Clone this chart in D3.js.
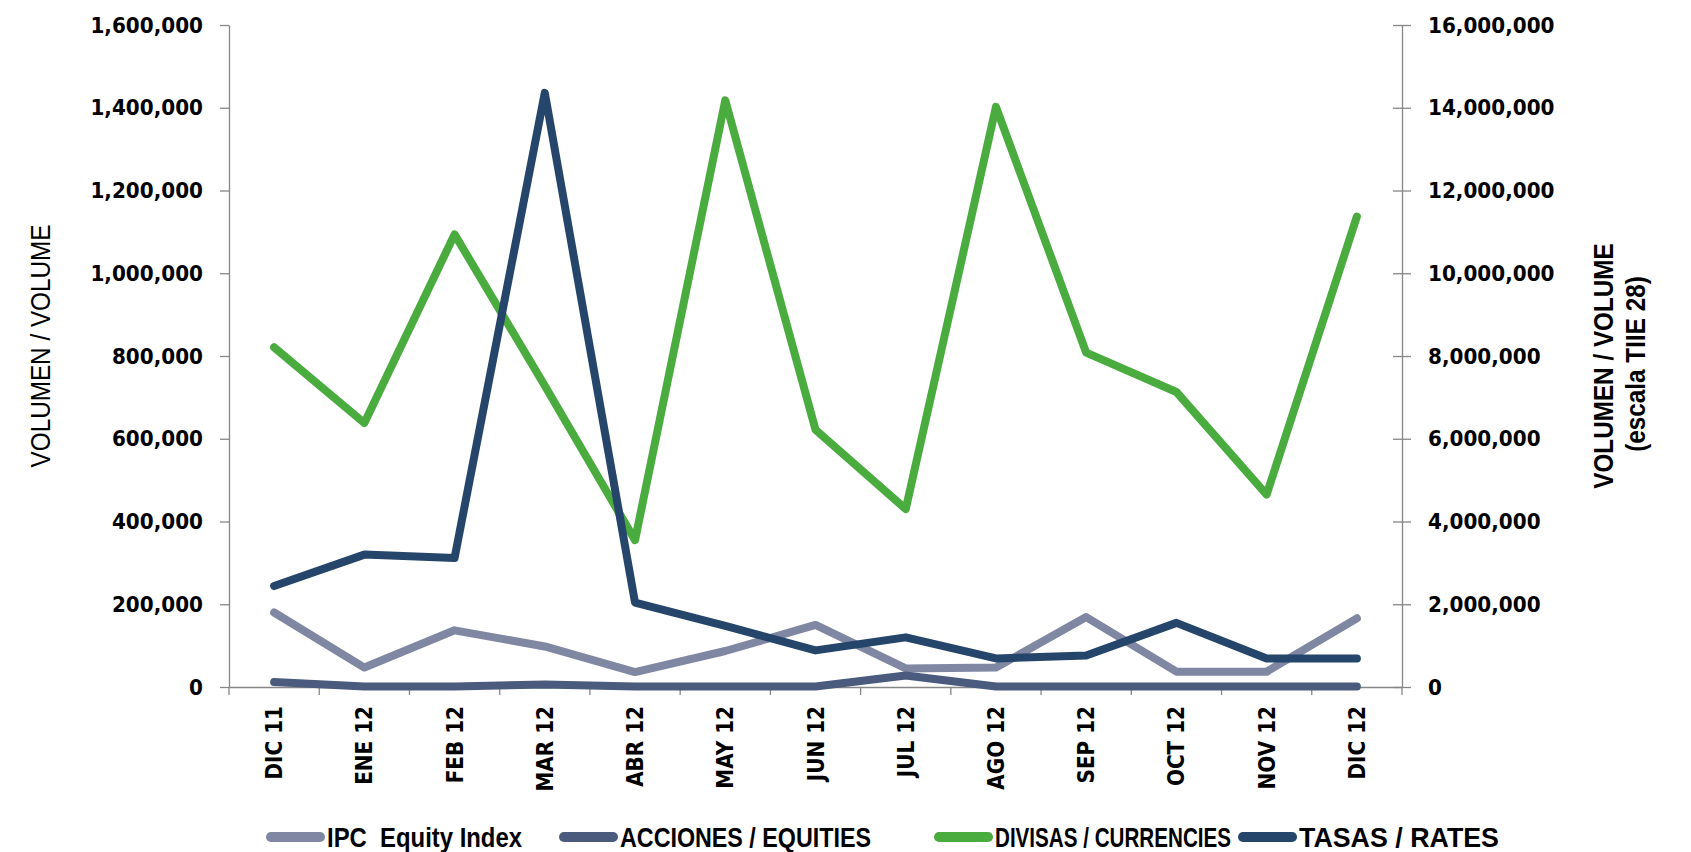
<!DOCTYPE html>
<html lang="es">
<head>
<meta charset="UTF-8">
<title>volumen</title>
<script src="https://cdn.jsdelivr.net/npm/d3@7"></script>
<style>
  body { margin: 0; background: #fff; }
  .tick text { font-family: "DejaVu Sans", Verdana, sans-serif; font-weight: bold; font-size: 20px; fill: #000; }
  .narrow { font-family: "Liberation Sans", Arial, sans-serif; fill: #000; }
  .axis path, .axis line { stroke: #868686; stroke-width: 1.3px; }
  .serie { fill: none; stroke-width: 8px; stroke-linecap: round; stroke-linejoin: round; }
</style>
</head>
<body>
<svg id="chart" width="1691" height="852"></svg>
<script>
// meses
var meses = ["DIC 11", "ENE 12", "FEB 12", "MAR 12", "ABR 12", "MAY 12", "JUN 12",
             "JUL 12", "AGO 12", "SEP 12", "OCT 12", "NOV 12", "DIC 12"];

// series (eje izquierdo)
var ipc      = [180000, 47000, 137000, 98000, 36000, 87000, 150000, 45000, 47000, 169000, 37000, 37000, 166000];
var acciones = [12000, 1000, 1000, 6000, 1000, 1000, 1000, 28000, 1000, 1000, 1000, 1000, 1000];
var divisas  = [821000, 638000, 1094000, 728000, 355000, 1418000, 622000, 430000, 1402000, 808000, 713000, 465000, 1137000];
// tasas (eje derecho, escala TIIE 28)
var tasas    = [2440000, 3200000, 3120000, 14360000, 2040000, 1480000, 885000, 1200000, 690000, 760000, 1550000, 690000, 690000];

var ticksIzq = d3.range(0, 1600001, 200000);
var ticksDer = d3.range(0, 16000001, 2000000);

var nombres = ["IPC  Equity Index", "ACCIONES / EQUITIES", "DIVISAS / CURRENCIES", "TASAS / RATES"];
var colores = ["#7f87a3", "#4b5b7e", "#4aac3f", "#25456a"];
// posicion y ancho de cada entrada de la leyenda
var legendX = [266, 559, 934, 1238];
var legendW = [195, 251, 236, 200];

var svg = d3.select("#chart");
var mLeft = 229, mRight = 1402, mTop = 25, mBottom = 687;

var x = d3.scaleBand().domain(meses).range([mLeft, mRight]);
var cx = function (d, i) { return x(meses[i]) + x.bandwidth() / 2; };
var yL = d3.scaleLinear().domain([0, 1600000]).range([mBottom, mTop]);
var yR = d3.scaleLinear().domain([0, 16000000]).range([mBottom, mTop]);

// eje izquierdo
var gL = svg.append("g").attr("class", "axis")
  .attr("transform", "translate(" + mLeft + ",0)")
  .call(d3.axisLeft(yL).tickValues(ticksIzq).tickSize(9).tickSizeOuter(0).tickPadding(17).tickFormat(d3.format(",")));
gL.selectAll(".tick text").attr("transform", "scale(1,1.1)");

// eje derecho, marcas cruzadas
var gR = svg.append("g").attr("class", "axis")
  .attr("transform", "translate(" + mRight + ",0)")
  .call(d3.axisRight(yR).tickValues(ticksDer).tickSize(9).tickSizeOuter(0).tickPadding(17).tickFormat(d3.format(",")));
gR.selectAll(".tick line").attr("x1", -9).attr("x2", 9);
gR.selectAll(".tick text").attr("transform", "scale(1,1.1)");

// eje x
var gX = svg.append("g").attr("class", "axis")
  .attr("transform", "translate(0," + mBottom + ")")
  .call(d3.axisBottom(x).tickSize(0).tickSizeOuter(0));
gX.selectAll(".tick text")
  .attr("transform", "rotate(-90) scale(1,1.12)")
  .attr("text-anchor", "end")
  .attr("x", -19).attr("y", 0).attr("dy", "0.36em");
gX.selectAll(".sep").data(d3.range(meses.length + 1)).enter().append("line")
  .attr("class", "sep")
  .attr("x1", function (i) { return mLeft + i * x.step(); })
  .attr("x2", function (i) { return mLeft + i * x.step(); })
  .attr("y1", 0).attr("y2", 8);

// lineas
var lineaL = d3.line().x(cx).y(function (d) { return yL(d); });
var lineaR = d3.line().x(cx).y(function (d) { return yR(d); });
[ipc, acciones, divisas].forEach(function (s, k) {
  svg.append("path").datum(s).attr("class", "serie").attr("stroke", colores[k]).attr("d", lineaL);
});
svg.append("path").datum(tasas).attr("class", "serie").attr("stroke", colores[3]).attr("d", lineaR);

// titulos de ejes (texto condensado)
svg.append("text").attr("class", "narrow")
  .attr("transform", "translate(50,346) rotate(-90) scale(0.9,1)")
  .attr("text-anchor", "middle").style("font-size", "27px")
  .text("VOLUMEN / VOLUME");
svg.append("text").attr("class", "narrow")
  .attr("transform", "translate(1613,366) rotate(-90) scale(0.9,1)")
  .attr("text-anchor", "middle").style("font-size", "27px").style("font-weight", "bold")
  .text("VOLUMEN / VOLUME");
svg.append("text").attr("class", "narrow")
  .attr("transform", "translate(1645,364) rotate(-90) scale(0.9,1)")
  .attr("text-anchor", "middle").style("font-size", "27px").style("font-weight", "bold")
  .text("(escala TIIE 28)");

// leyenda
var ley = svg.selectAll(".ley").data(nombres).enter().append("g")
  .attr("class", "ley")
  .attr("transform", function (d, i) { return "translate(" + legendX[i] + ",837)"; });
ley.append("line")
  .attr("x1", 5).attr("x2", 54).attr("y1", 0).attr("y2", 0)
  .attr("stroke", function (d, i) { return colores[i]; })
  .attr("stroke-width", 10).attr("stroke-linecap", "round");
ley.append("text").attr("class", "narrow")
  .attr("x", 61).attr("dy", "0.34em")
  .attr("textLength", function (d, i) { return legendW[i]; })
  .attr("lengthAdjust", "spacingAndGlyphs")
  .style("font-size", "28px").style("font-weight", "bold").style("white-space", "pre")
  .text(function (d) { return d; });
</script>
</body>
</html>
